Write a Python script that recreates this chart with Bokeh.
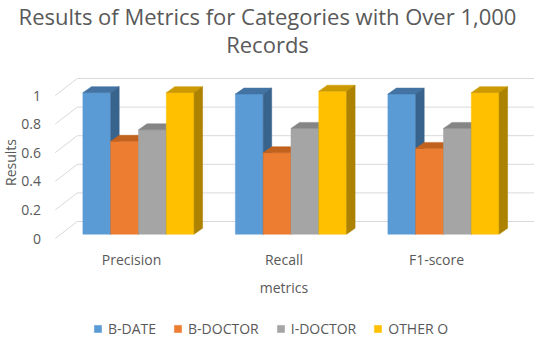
import math
from bokeh.plotting import figure
from bokeh.models import Range1d, ColumnDataSource, Legend, LegendItem
from bokeh.embed import file_html
from bokeh.resources import INLINE
from bokeh.core.properties import value

# ---------------- data ----------------
categories = ["Precision", "Recall", "F1-score"]
series_names = ["B-DATE", "B-DOCTOR", "I-DOCTOR", "OTHER O"]
b_date = [0.99, 0.98, 0.98]
b_doctor = [0.65, 0.57, 0.60]
i_doctor = [0.73, 0.74, 0.74]
other_o = [0.99, 1.00, 0.99]
y_ticks = [0, 0.2, 0.4, 0.6, 0.8, 1]
y_tick_labels = ["0", "0.2", "0.4", "0.6", "0.8", "1"]
title_lines = ["Results of Metrics for Categories with Over 1,000", "Records"]
x_title = "metrics"
y_title = "Results"

series_values = [b_date, b_doctor, i_doctor, other_o]

# ---------------- style ----------------
front_colors = ["#5B9BD5", "#ED7D31", "#A5A5A5", "#FFC000"]
top_colors = ["#4273A3", "#C2621F", "#858585", "#CC9A00"]
side_colors = ["#38638D", "#A8541A", "#727272", "#AD8200"]
TEXT = "#595959"
GRID = "#D9D9D9"
FONT = "Open Sans"

W, H = 534, 339
PAGE = 8
X0_PX, X_UNIT = 62.75, 152.5     # front plane: category axis start, px per category
Y0_PX, Y_UNIT = 246.0, 143.0     # front plane: value 0, px per unit


def px2x(px):
    return (px - X0_PX) / X_UNIT


def py2v(py):
    return (Y0_PX - py) / Y_UNIT


p = figure(width=W, height=H, output_backend="svg", toolbar_location=None,
           title=None,
           x_range=Range1d(px2x(PAGE), px2x(PAGE + W)),
           y_range=Range1d(py2v(PAGE + H), py2v(PAGE)),
           x_axis_type=None, y_axis_type=None, min_border=0,
           outline_line_color=None, background_fill_color="white")

# walls (oblique projection)
DXW, DYW = 22 / X_UNIT, 17 / Y_UNIT
n = len(y_ticks)
p.segment(x0=[DXW] * n, y0=[t + DYW for t in y_ticks],
          x1=[px2x(548)] * n, y1=[t + DYW for t in y_ticks],
          line_color=GRID, line_width=1)
p.segment(x0=[0] * n, y0=y_ticks, x1=[DXW] * n, y1=[t + DYW for t in y_ticks],
          line_color=GRID, line_width=1)

# bars
FX, FY = 7 / X_UNIT, 4.3 / Y_UNIT
BW = 27.8 / X_UNIT
DX, DY = 8.5 / X_UNIT, 6 / Y_UNIT
ns = len(series_values)

front_renderers = []
for s, vals in enumerate(series_values):
    fxs, fys, oxs, oys, ocol = [], [], [], [], []
    for c, v in enumerate(vals):
        x0 = c + 0.5 - ns / 2 * BW + FX + s * BW
        x1 = x0 + BW
        b = FY
        t = FY + v
        fxs.append([x0, x1, x1, x0])
        fys.append([b, b, t, t])
        oxs.append([x0, x1, x1 + DX, x0 + DX])
        oys.append([t, t, t + DY, t + DY])
        ocol.append(top_colors[s])
        oxs.append([x1, x1 + DX, x1 + DX, x1])
        oys.append([b, b + DY, t + DY, t])
        ocol.append(side_colors[s])
    r = p.patches(xs=fxs, ys=fys, fill_color=front_colors[s],
                  line_color=front_colors[s], line_width=0.5)
    front_renderers.append(r)
    src = ColumnDataSource(dict(xs=oxs, ys=oys, col=ocol))
    p.patches(xs="xs", ys="ys", source=src, fill_color="col",
              line_color="col", line_width=0.5)

# y tick labels (front plane)
p.text(x=[px2x(48.5)] * n, y=y_ticks, text=y_tick_labels,
       text_font=value(FONT), text_font_size="14px", text_color=TEXT,
       text_align="right", text_baseline="middle")

# category labels
p.text(x=[c + 0.5 for c in range(len(categories))],
       y=[py2v(267)] * len(categories), text=categories,
       text_font=value(FONT), text_font_size="14px", text_color=TEXT,
       text_align="center", text_baseline="middle")

# axis titles
p.text(x=[1.5], y=[py2v(295)], text=[x_title],
       text_font=value(FONT), text_font_size="14px", text_color=TEXT,
       text_align="center", text_baseline="middle")
p.text(x=[px2x(18)], y=[py2v(170)], text=[y_title], angle=math.pi / 2,
       text_font=value(FONT), text_font_size="14px", text_color=TEXT,
       text_align="center", text_baseline="middle")

# chart title
p.text(x=[px2x(275)] * 2, y=[py2v(23.5), py2v(51)], text=title_lines,
       text_font=value(FONT), text_font_size="22px", text_color=TEXT,
       text_align="center", text_baseline="middle")

# legend
items = [LegendItem(label=name, renderers=[front_renderers[i]])
         for i, name in enumerate(series_names)]
legend = Legend(items=items, orientation="horizontal", location=(93, 1.5),
                glyph_width=9, glyph_height=9, label_standoff=6, spacing=17,
                padding=0, margin=0, border_line_color=None,
                background_fill_alpha=0, label_text_font=FONT,
                label_text_font_size="14px", label_text_color=TEXT,
                label_height=9)
p.add_layout(legend)

open("out.html", "w").write(file_html(p, INLINE))
